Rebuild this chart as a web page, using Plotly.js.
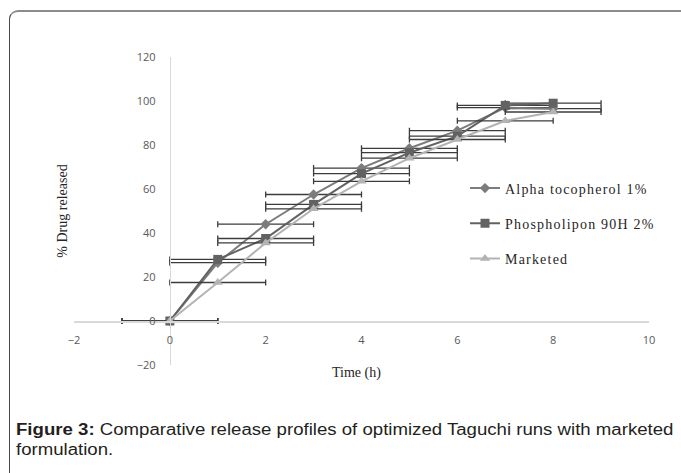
<!DOCTYPE html>
<html>
<head>
<meta charset="utf-8">
<script src="https://cdn.plot.ly/plotly-3.0.1.min.js"></script>
<style>
  html, body { margin:0; padding:0; background:#fff; width:681px; height:473px; overflow:hidden; }
  #chart { position:absolute; left:0; top:0; width:681px; height:473px; }
  #frame { position:absolute; left:9px; top:10px; width:720px; height:520px;
           border-top:2px solid #8c8c8c; border-left:1.5px solid #4a4a4a;
           border-top-left-radius:9px; pointer-events:none; box-sizing:border-box; }
  #caption { position:absolute; left:16px; top:420px;
             font-family:"Liberation Sans", Arial, sans-serif; font-size:16px;
             line-height:20px; color:#231f20; white-space:nowrap;
             transform:scaleX(1.163); transform-origin:0 0; }
  .legendtext { letter-spacing:1.2px; }
</style>
</head>
<body>
<div id="chart"></div>
<div id="frame"></div>
<div id="caption"><b>Figure 3:</b> Comparative release profiles of optimized Taguchi runs with marketed<br>formulation.</div>
<script>
// ---- data ----
const timeH = [0, 1, 2, 3, 4, 5, 6, 7, 8];
const alphaTocopherol = [0, 26.5, 44, 57.5, 69.5, 78.5, 86.5, 97, 96.5];
const phospholipon = [0, 28, 37.5, 53, 67, 76.5, 84, 98, 99];
const marketed = [0, 17.5, 35.5, 51, 63.5, 74, 82.5, 91, 95];
const timeError = [1, 1, 1, 1, 1, 1, 1, 1, 1];
const seriesNames = ["Alpha tocopherol 1%", "Phospholipon 90H 2%", "Marketed"];
const xTicks = [-2, 0, 2, 4, 6, 8, 10];
const yTicks = [-20, 0, 20, 40, 60, 80, 100, 120];

const errStyle = {type:'data', array: timeError, visible:true, color:'#3c3c3c', thickness:1.3, width:3};

function trace(y, name, color, symbol, size, group) {
  return {
    x: timeH, y: y, name: name, type:'scatter', mode:'lines+markers',
    legendgroup: group,
    line: {color: color, width: 2},
    marker: {color: color, symbol: symbol, size: size},
    error_x: errStyle
  };
}

const data = [
  trace(alphaTocopherol, seriesNames[0], '#7c7c7c', 'diamond', 8, 'a'),
  trace(phospholipon, seriesNames[1], '#626262', 'square', 9, 'b'),
  trace(marketed, seriesNames[2], '#b3b3b3', 'triangle-up', 9, 'c')
];

const axisCommon = {
  showline:true, linecolor:'#d9d9d9', linewidth:1.5, showgrid:false, zeroline:false,
  ticks:'', tickfont:{family:'"Open Sans", "Liberation Sans", sans-serif', size:11, color:'#595959'},
  anchor:'free', fixedrange:true
};

const layout = {
  width:681, height:473,
  margin:{l:74, r:32, t:57, b:108},
  paper_bgcolor:'#fff', plot_bgcolor:'#fff',
  showlegend:true,
  legend:{x:0.68, y:0.625, xanchor:'left', yanchor:'top', tracegroupgap:14,
          font:{family:'"Liberation Serif", "Times New Roman", serif', size:14, color:'#262626'},
          bgcolor:'rgba(0,0,0,0)'},
  xaxis: Object.assign({}, axisCommon, {range:[-2,10], tickvals:xTicks, position:20/140, ticklabelstandoff:8}),
  yaxis: Object.assign({}, axisCommon, {range:[-20,120], tickvals:yTicks, position:2/12, ticklabelstandoff:12}),
  annotations:[
    {text:'% Drug released', xref:'paper', yref:'paper', x:-0.038, y:0.5, textangle:-90,
     showarrow:false, font:{family:'"Liberation Serif", "Times New Roman", serif', size:14, color:'#262626'}},
    {text:'Time (h)', xref:'paper', yref:'paper', x:0.492, y:-0.058,
     showarrow:false, font:{family:'"Liberation Serif", "Times New Roman", serif', size:14, color:'#262626'}}
  ]
};

Plotly.newPlot('chart', data, layout, {displayModeBar:false, staticPlot:true});
</script>
</body>
</html>
